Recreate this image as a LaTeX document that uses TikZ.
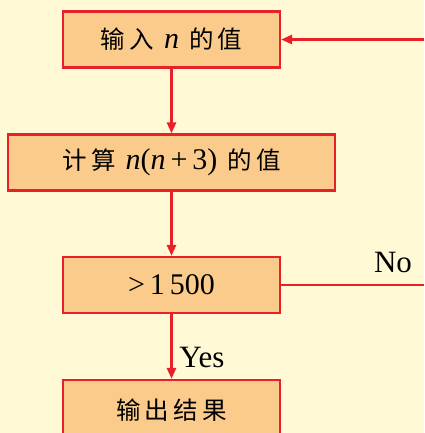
\documentclass[tikz,border=0pt]{standalone}
\usepackage{fontspec}
\setmainfont{Liberation Serif}
\newfontfamily\cjk{Noto Sans CJK SC}
\usetikzlibrary{arrows.meta}
\definecolor{bgc}{HTML}{FFF9D6}
\definecolor{boxc}{HTML}{FBCB8C}
\definecolor{redc}{HTML}{E8202A}
\newcommand{\cj}[1]{{\cjk\fontsize{24.5}{26}\selectfont #1}}
\begin{document}
\begin{tikzpicture}[x=1pt,y=-1pt,
  box/.style={draw=redc,fill=boxc,line width=2.2pt,rectangle,inner sep=0pt,minimum height=56pt,
    font=\fontsize{30}{32}\selectfont},
  arr/.style={draw=redc,line width=2.6pt,-{Triangle[length=11pt,width=9pt]}},
  ln/.style={draw=redc,line width=2.6pt},
  lbl/.style={inner sep=0pt,font=\fontsize{31}{33}\selectfont}]
\useasboundingbox (0,0) rectangle (424,433);
\fill[bgc] (0,0) rectangle (424,433);
\begin{scope}
\clip (0,0) rectangle (424,433);
\node[box,minimum width=217pt] (b1) at (171.5,39.5) {\cj{输\,入}\,\,\textit{n}\,\,\cj{的\,值}};
\node[box,minimum width=327pt] (b2) at (171.5,162.5) {\cj{计\,算}\,\,\textit{n}(\textit{n}\,+\,3)\,\,\cj{的\,值}};
\node[box,minimum width=217pt] (b3) at (171.5,285) {>\,1\,500};
\node[box,minimum width=217pt,minimum height=62pt,text depth=0pt] (b4) at (171.5,411) {\raisebox{4pt}{\cj{输\,出\,结\,果}}};
\coordinate (fbR) at (424,39.5);
\coordinate (noR) at (424,285);
\draw[arr] (b1.south) -- (b2.north);
\draw[arr] (b2.south) -- (b3.north);
\draw[arr] (b3.south) -- (b4.north);
\draw[arr] (fbR) -- (b1.east);
\draw[ln] (b3.east) -- (noR);
\node[lbl] (no) at (393,262) {No};
\node[lbl] (yes) at (202,357) {Yes};
\end{scope}
\end{tikzpicture}
\end{document}
